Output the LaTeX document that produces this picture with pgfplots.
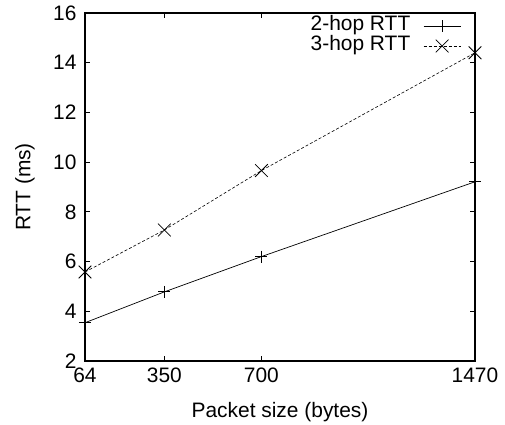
\documentclass[border=0pt]{standalone}
\usepackage{fontspec}
\setmainfont{Liberation Sans}
\usepackage{pgfplots}
\pgfplotsset{compat=1.18}

\newcommand{\chartfont}{\fontsize{21}{25}\selectfont}

\begin{document}
\begin{tikzpicture}
\path[use as bounding box] (0bp,0bp) rectangle (505bp,425bp);
\begin{axis}[
  at={(85bp,64bp)}, anchor=south west,
  scale only axis, width=390bp, height=348bp,
  xmin=64, xmax=1470, ymin=2, ymax=16,
  xtick={64,350,700,1470},
  ytick={2,4,...,16},
  tick align=inside,
  major tick length=5bp,
  axis line style={line width=1.1bp},
  every tick/.style={line width=0.8bp, black},
  /pgf/number format/assume math mode=true,
  /pgf/number format/1000 sep={},
  tick label style={font=\chartfont},
  xticklabel style={yshift=-3bp},
  yticklabel style={xshift=-5bp},
  xlabel={Packet size (bytes)},
  ylabel={RTT (ms)},
  label style={font=\chartfont},
  x label style={at={(axis description cs:0.5,-0.147)},anchor=center},
  y label style={at={(axis description cs:-0.154,0.5)},anchor=center},
  clip=false,
  legend plot pos=right,
  legend cell align=right,
  legend style={draw=none, fill=none, at={(1,1)}, anchor=north east,
    inner sep=0pt, outer sep=0pt,
    xshift=-14bp, yshift=-4bp,
    font=\chartfont, row sep=0.5bp, column sep=13bp,
    nodes={inner sep=0pt, text height=14bp, text depth=5bp}},
  legend image code/.code={%
    \draw[mark repeat=2,mark phase=2,#1]
      plot coordinates {(0bp,0bp) (18.5bp,0bp) (37bp,0bp)};},
]
% RTT over two hops
\addplot[black, line width=0.7bp, mark=+, mark size=6bp,
  mark options={solid, line width=0.8bp}]
  coordinates {(64,3.54) (350,4.78) (700,6.20) (1470,9.21)};
\addlegendentry{2-hop RTT}
% RTT over three hops
\addplot[black, line width=0.6bp, densely dashed, mark=x, mark size=9bp,
  mark options={solid, line width=0.8bp}]
  coordinates {(64,5.58) (350,7.27) (700,9.66) (1470,14.40)};
\addlegendentry{3-hop RTT}
\end{axis}
\end{tikzpicture}
\end{document}
